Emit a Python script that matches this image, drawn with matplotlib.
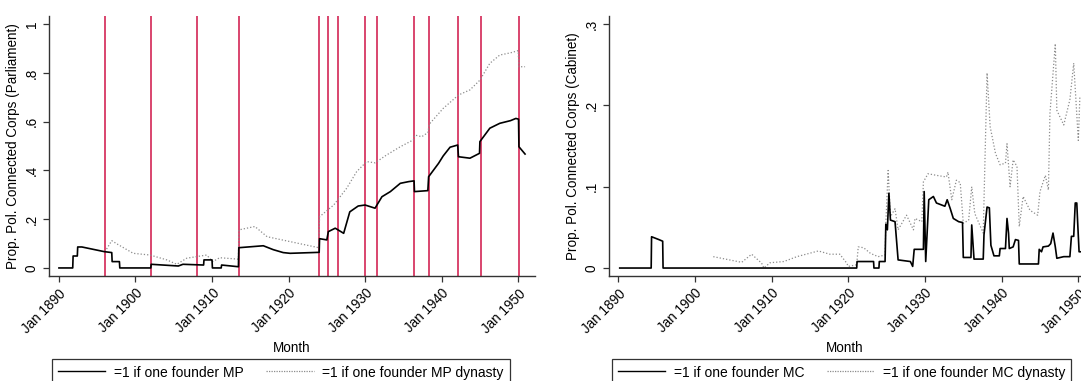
import matplotlib
matplotlib.use("Agg")
import matplotlib.pyplot as plt
from matplotlib.lines import Line2D

# --- data (year, share) ---
election_dates = [1896.0, 1902.0, 1908.0, 1913.5, 1924.0, 1925.2, 1926.4,
                  1930.0, 1931.5, 1936.4, 1938.3, 1942.2, 1945.1, 1950.1]

mp_points = [
    (1890.0, 0.0), (1891.8, 0.0), (1891.85, 0.049), (1892.4, 0.049), (1892.45, 0.086),
    (1893.0, 0.086), (1895.9, 0.067), (1896.9, 0.063), (1896.95, 0.026), (1897.9, 0.026),
    (1897.95, 0.0), (1902.0, 0.0), (1902.05, 0.015), (1905.6, 0.008), (1906.2, 0.015),
    (1908.9, 0.012), (1908.95, 0.033), (1910.0, 0.033), (1910.05, 0.0), (1911.2, 0.0),
    (1911.25, 0.012), (1913.45, 0.005), (1913.5, 0.083), (1916.7, 0.091), (1918.0, 0.075),
    (1919.3, 0.063), (1920.2, 0.06), (1924.0, 0.064), (1924.05, 0.12), (1925.0, 0.115),
    (1925.2, 0.149), (1926.1, 0.163), (1927.2, 0.142), (1928.0, 0.23), (1929.1, 0.254),
    (1930.0, 0.258), (1931.3, 0.245), (1932.2, 0.292), (1933.3, 0.313), (1934.6, 0.347),
    (1935.7, 0.354), (1936.4, 0.357), (1936.45, 0.313), (1938.2, 0.317), (1938.3, 0.374),
    (1939.6, 0.429), (1940.2, 0.459), (1941.1, 0.495), (1942.1, 0.504), (1942.2, 0.456),
    (1943.7, 0.45), (1944.95, 0.47), (1945.0, 0.518), (1946.3, 0.573), (1947.6, 0.593),
    (1949.0, 0.604), (1949.7, 0.613), (1950.05, 0.61), (1950.1, 0.497), (1950.9, 0.467),
]

mp_dynasty_points = [
    (1896.0, 0.066), (1896.9, 0.112), (1897.5, 0.10), (1899.7, 0.06), (1901.9, 0.053),
    (1904.1, 0.033), (1905.4, 0.015), (1906.7, 0.04), (1909.3, 0.053), (1910.1, 0.026),
    (1911.0, 0.042), (1913.45, 0.036), (1913.5, 0.156), (1915.6, 0.17), (1917.2, 0.128),
    (1920.2, 0.108), (1923.95, 0.083), (1924.05, 0.21), (1925.9, 0.258), (1927.6, 0.327),
    (1928.9, 0.395), (1930.2, 0.436), (1931.3, 0.431), (1932.8, 0.463), (1934.6, 0.497),
    (1936.3, 0.525), (1936.5, 0.545), (1937.4, 0.538), (1938.2, 0.555), (1938.4, 0.59),
    (1940.2, 0.654), (1942.2, 0.709), (1943.7, 0.73), (1945.0, 0.77), (1946.3, 0.839),
    (1947.6, 0.873), (1949.0, 0.882), (1950.0, 0.891), (1950.1, 0.825), (1950.9, 0.825),
]

mc_points = [
    (1890.2, 0.0), (1894.3, 0.0), (1894.35, 0.0385), (1895.3, 0.035), (1895.8, 0.033),
    (1895.85, 0.0), (1921.1, 0.0), (1921.15, 0.008), (1923.3, 0.008), (1923.35, 0.0),
    (1924.0, 0.0), (1924.05, 0.008), (1924.8, 0.008), (1924.9, 0.054), (1925.1, 0.047),
    (1925.3, 0.092), (1925.5, 0.059), (1926.1, 0.057), (1926.5, 0.01), (1928.1, 0.008),
    (1928.4, 0.002), (1928.6, 0.023), (1929.8, 0.023), (1929.9, 0.094), (1930.1, 0.008),
    (1930.5, 0.084), (1931.1, 0.088), (1931.5, 0.08), (1932.6, 0.076), (1932.9, 0.084),
    (1933.3, 0.073), (1933.7, 0.061), (1934.4, 0.057), (1934.9, 0.056), (1935.0, 0.013),
    (1936.0, 0.013), (1936.1, 0.053), (1936.4, 0.011), (1937.6, 0.011), (1937.7, 0.041),
    (1938.1, 0.075), (1938.4, 0.074), (1938.6, 0.028), (1939.0, 0.015), (1939.7, 0.015),
    (1939.8, 0.024), (1940.5, 0.024), (1940.7, 0.061), (1940.9, 0.043), (1941.0, 0.024),
    (1941.5, 0.026), (1941.8, 0.035), (1942.2, 0.034), (1942.3, 0.005), (1944.8, 0.005),
    (1944.9, 0.023), (1945.2, 0.02), (1945.4, 0.026), (1946.1, 0.027), (1946.4, 0.03),
    (1946.7, 0.043), (1947.0, 0.026), (1947.2, 0.012), (1948.1, 0.014), (1948.9, 0.014),
    (1949.1, 0.039), (1949.4, 0.039), (1949.6, 0.08), (1949.8, 0.08), (1949.9, 0.059),
    (1950.1, 0.02), (1950.6, 0.02),
]

mc_dynasty_points = [
    (1902.4, 0.014), (1906.1, 0.007), (1907.4, 0.017), (1908.7, 0.006), (1909.0, 0.0),
    (1909.8, 0.0065), (1911.6, 0.008), (1913.3, 0.014), (1916.1, 0.021), (1917.6, 0.017),
    (1918.9, 0.017), (1919.8, 0.006), (1920.0, 0.002), (1921.1, 0.004), (1921.3, 0.026),
    (1922.0, 0.025), (1922.9, 0.018), (1923.9, 0.014), (1924.8, 0.016), (1924.9, 0.055),
    (1925.2, 0.12), (1925.5, 0.063), (1926.1, 0.073), (1926.5, 0.047), (1927.6, 0.065),
    (1928.5, 0.047), (1928.7, 0.061), (1929.6, 0.057), (1929.8, 0.106), (1930.4, 0.116),
    (1931.5, 0.114), (1932.8, 0.112), (1933.0, 0.118), (1933.5, 0.084), (1934.1, 0.108),
    (1934.6, 0.105), (1935.0, 0.055), (1935.7, 0.059), (1936.1, 0.1), (1936.5, 0.067),
    (1937.6, 0.043), (1938.1, 0.24), (1938.5, 0.174), (1939.2, 0.141), (1939.8, 0.127),
    (1940.5, 0.129), (1940.7, 0.153), (1941.1, 0.1), (1941.5, 0.133), (1942.0, 0.125),
    (1942.3, 0.051), (1942.8, 0.088), (1943.7, 0.071), (1944.7, 0.065), (1945.0, 0.094),
    (1945.7, 0.114), (1946.1, 0.096), (1946.3, 0.19), (1947.0, 0.276), (1947.2, 0.194),
    (1948.1, 0.176), (1948.9, 0.207), (1949.4, 0.252), (1950.0, 0.157), (1950.2, 0.21),
]

year_ticks = [1890, 1900, 1910, 1920, 1930, 1940, 1950]
left_yticks = [0, 0.2, 0.4, 0.6, 0.8, 1.0]
left_ylabels = ["0", ".2", ".4", ".6", ".8", "1"]
right_yticks = [0, 0.1, 0.2, 0.3]
right_ylabels = ["0", ".1", ".2", ".3"]

plt.rcParams["font.family"] = ["Liberation Sans", "DejaVu Sans"]
FS = 9.75
LEG_FS = 10
RED = "#cf1446"
GRAY = "#8c8c8c"


def style_axis(ax, yticks, ylabels, ylabel):
    ax.spines["top"].set_visible(False)
    ax.spines["right"].set_visible(False)
    for s in ("left", "bottom"):
        ax.spines[s].set_linewidth(1.0)
        ax.spines[s].set_color("#333333")
    ax.set_xticks(year_ticks)
    ax.set_xticklabels([f"Jan {y}" for y in year_ticks], rotation=45,
                       ha="right", rotation_mode="anchor", fontsize=FS)
    ax.set_yticks(yticks)
    ax.set_yticklabels(ylabels, rotation=90, va="center", fontsize=FS)
    ax.tick_params(length=4, width=0.9, color="#333333")
    ax.set_xlabel("Month", fontsize=FS, labelpad=4)
    ax.set_ylabel(ylabel, fontsize=FS, labelpad=3)


def draw(ax, solid, dotted):
    ax.plot(*zip(*dotted), color=GRAY, lw=0.9, ls=(0, (1, 1.6)), zorder=2)
    ax.plot(*zip(*solid), color="black", lw=1.2, zorder=3)


fig = plt.figure(figsize=(10.81, 3.81), dpi=100)
W, H = 1081, 381

ax1 = fig.add_axes([49 / W, (H - 276) / H, (535 - 49) / W, 260 / H])
for d in election_dates:
    ax1.axvline(d, color=RED, lw=1.1, zorder=1)
draw(ax1, mp_points, mp_dynasty_points)
ax1.set_xlim(1888.7, 1952.2)
ax1.set_ylim(-0.033, 1.033)
style_axis(ax1, left_yticks, left_ylabels, "Prop. Pol. Connected Corps (Parliament)")

ax2 = fig.add_axes([609 / W, (H - 276) / H, (W - 609) / W, 260 / H])
draw(ax2, mc_points, mc_dynasty_points)
ax2.set_xlim(1888.8, 1950.35)
ax2.set_ylim(-0.0098, 0.31)
style_axis(ax2, right_yticks, right_ylabels, "Prop. Pol. Connected Corps (Cabinet)")


def add_legend(x0, labels):
    handles = [Line2D([], [], color="black", lw=1.0),
               Line2D([], [], color=GRAY, lw=0.9, ls=(0, (1, 1)))]
    leg = fig.legend(handles, labels, loc="upper left",
                     bbox_to_anchor=(x0 / W, (H - 359) / H),
                     ncol=2, fontsize=LEG_FS, frameon=True,
                     fancybox=False, edgecolor="black", borderpad=0.45,
                     handlelength=3.4, handleheight=1.3, handletextpad=0.6,
                     columnspacing=1.65, borderaxespad=0)
    leg.get_frame().set_linewidth(0.9)


add_legend(52, ["=1 if one founder MP", "=1 if one founder MP dynasty"])
add_legend(612, ["=1 if one founder MC", "=1 if one founder MC dynasty"])

fig.savefig("out.png", dpi=100)
